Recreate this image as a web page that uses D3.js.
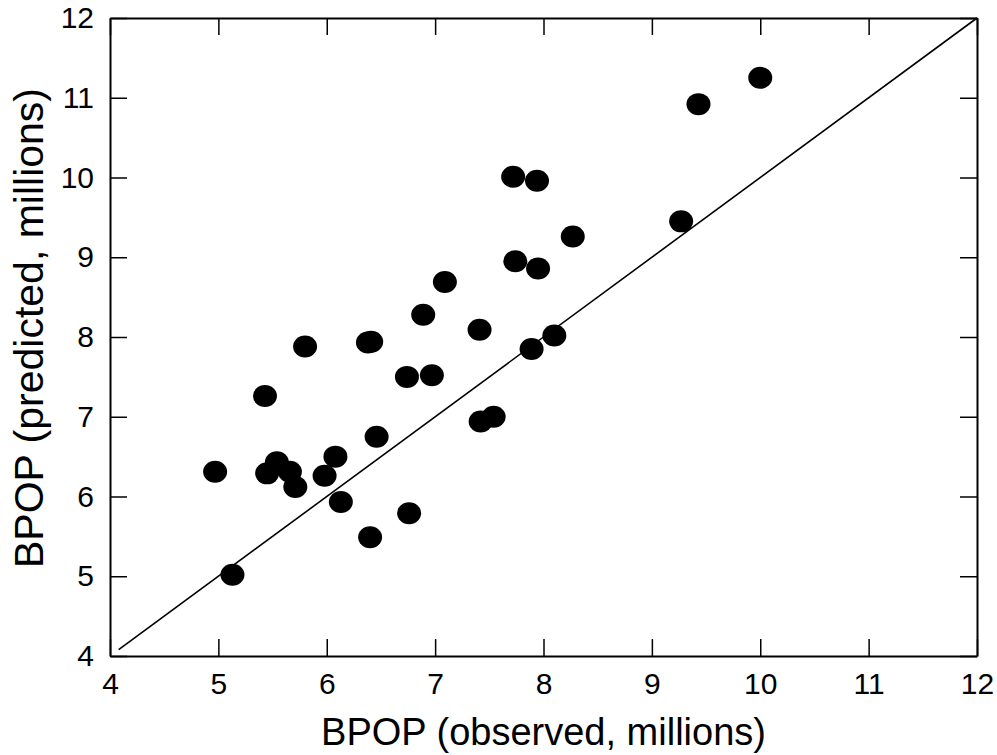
<!DOCTYPE html>
<html>
<head>
<meta charset="utf-8">
<script src="https://cdn.jsdelivr.net/npm/d3@7"></script>
<style>
  body { margin: 0; background: #fff; }
  text { font-family: "Liberation Sans", Arial, sans-serif; }
</style>
</head>
<body>
<div id="main"></div>
<script>
// observed vs predicted BPOP (millions)
let observed = [4.97, 5.13, 5.43, 5.45, 5.54, 5.66, 5.71, 5.80, 5.98, 6.08, 6.13,
    6.38, 6.41, 6.40, 6.46, 6.74, 6.76, 6.89, 6.97, 7.09, 7.41, 7.42, 7.54,
    7.72, 7.74, 7.89, 7.94, 7.95, 8.10, 8.27, 9.27, 9.43, 10.0];
let predicted = [6.31, 5.02, 7.26, 6.29, 6.43, 6.31, 6.12, 7.88, 6.26, 6.50, 5.93,
    7.93, 7.94, 5.49, 6.75, 7.50, 5.79, 8.28, 7.52, 8.69, 8.09, 6.94, 7.00,
    10.01, 8.95, 7.85, 9.96, 8.86, 8.02, 9.26, 9.45, 10.92, 11.25];
let tickValues = [4, 5, 6, 7, 8, 9, 10, 11, 12];
let identityLine = [4.08, 12];

let ctx = {
    width: 997,
    height: 755,
    left: 110,
    right: 977,
    top: 18,
    bottom: 656,
};

function createViz() {
    let svg = d3.select("#main").append("svg")
        .attr("width", ctx.width)
        .attr("height", ctx.height);

    let x = d3.scaleLinear().domain([4, 12]).range([ctx.left, ctx.right]);
    let y = d3.scaleLinear().domain([4, 12]).range([ctx.bottom, ctx.top]);

    // axes, ticks pointing inwards on all four sides
    let bottomAxis = d3.axisBottom(x).tickValues(tickValues)
        .tickSizeInner(-17).tickSizeOuter(0).tickPadding(17);
    let leftAxis = d3.axisLeft(y).tickValues(tickValues)
        .tickSizeInner(-17).tickSizeOuter(0).tickPadding(16);
    let topAxis = d3.axisTop(x).tickValues(tickValues)
        .tickSizeInner(-17).tickSizeOuter(0).tickFormat("");
    let rightAxis = d3.axisRight(y).tickValues(tickValues)
        .tickSizeInner(-17).tickSizeOuter(0).tickFormat("");

    let gb = svg.append("g").attr("transform", `translate(0,${ctx.bottom})`).call(bottomAxis);
    let gl = svg.append("g").attr("transform", `translate(${ctx.left},0)`).call(leftAxis);
    let gt = svg.append("g").attr("transform", `translate(0,${ctx.top})`).call(topAxis);
    let gr = svg.append("g").attr("transform", `translate(${ctx.right},0)`).call(rightAxis);

    [gb, gl, gt, gr].forEach(g => {
        g.select(".domain").attr("stroke", "#000").attr("stroke-width", 2);
        g.selectAll(".tick line").attr("stroke", "#000").attr("stroke-width", 1.5);
        g.selectAll(".tick text")
            .attr("fill", "#000")
            .style("font-family", "'Liberation Sans', Arial, sans-serif")
            .style("font-size", "30px");
    });

    // 1:1 line
    svg.append("line")
        .attr("x1", x(identityLine[0]))
        .attr("y1", y(identityLine[0]))
        .attr("x2", x(identityLine[1]))
        .attr("y2", y(identityLine[1]))
        .attr("stroke", "#000")
        .attr("stroke-width", 1.6);

    // points
    svg.append("g")
        .selectAll("ellipse")
        .data(observed.map((o, i) => [o, predicted[i]]))
        .enter().append("ellipse")
        .attr("cx", d => x(d[0]))
        .attr("cy", d => y(d[1]))
        .attr("rx", 12)
        .attr("ry", 11)
        .attr("fill", "#000");

    // axis titles
    svg.append("text")
        .attr("x", (ctx.left + ctx.right) / 2)
        .attr("y", 745)
        .attr("text-anchor", "middle")
        .style("font-size", "38px")
        .text("BPOP (observed, millions)");

    svg.append("text")
        .attr("transform", "translate(43,328) rotate(-90)")
        .attr("text-anchor", "middle")
        .style("font-size", "41px")
        .text("BPOP (predicted, millions)");
}

createViz();
</script>
</body>
</html>
